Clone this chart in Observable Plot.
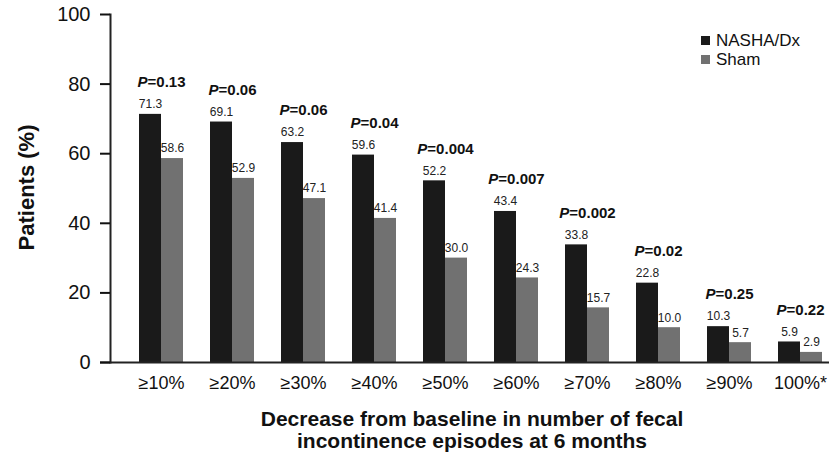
<!DOCTYPE html>
<html>
<head>
<meta charset="utf-8">
<script src="https://cdn.jsdelivr.net/npm/d3@7"></script>
<script src="https://cdn.jsdelivr.net/npm/@observablehq/plot@0.6"></script>
<style>
  html, body { margin: 0; padding: 0; background: #fff; }
  #wrap { position: relative; width: 829px; height: 454px; font-family: "Liberation Sans", Arial, sans-serif; }
  #legend { position: absolute; left: 701px; top: 31px; font-size: 17px; color: #111; }
  #legend .item { display: flex; align-items: center; height: 19px; }
  #legend .sw { width: 9px; height: 9px; margin-right: 6px; }
</style>
</head>
<body>
<div id="wrap"></div>
<script>
const categories = ["≥10%", "≥20%", "≥30%", "≥40%", "≥50%", "≥60%", "≥70%", "≥80%", "≥90%", "100%*"];
const nasha = [71.3, 69.1, 63.2, 59.6, 52.2, 43.4, 33.8, 22.8, 10.3, 5.9];
const sham = [58.6, 52.9, 47.1, 41.4, 30.0, 24.3, 15.7, 10.0, 5.7, 2.9];
const pValues = ["0.13", "0.06", "0.06", "0.04", "0.004", "0.007", "0.002", "0.02", "0.25", "0.22"];
const seriesNames = ["NASHA/Dx", "Sham"];
const seriesColors = ["#1a1a1a", "#717171"];
const yTicks = [0, 20, 40, 60, 80, 100];
const yTitle = "Patients (%)";
const xTitle = "Decrease from baseline in number of fecal\nincontinence episodes at 6 months";

const nashaRows = categories.map((c, i) => ({cat: c, value: nasha[i], p: "P=" + pValues[i]}));
const shamRows = categories.map((c, i) => ({cat: c, value: sham[i]}));

const font = '"Liberation Sans", Arial, sans-serif';
const narrow = '"Liberation Sans Narrow", "Arial Narrow", "Liberation Sans", Arial, sans-serif';

const svg = Plot.plot({
  width: 829,
  height: 454,
  marginLeft: 110,
  marginRight: 0,
  marginTop: 14,
  marginBottom: 92,
  style: {fontFamily: font, color: "#111", background: "#fff"},
  x: {domain: categories, range: [138, 824], paddingInner: 0.38, paddingOuter: 0},
  y: {domain: [0, 100]},
  marks: [
    Plot.barY(nashaRows, {x: "cat", y: "value", fill: seriesColors[0], insetRight: 22, insetLeft: 0}),
    Plot.barY(shamRows, {x: "cat", y: "value", fill: seriesColors[1], insetLeft: 22, insetRight: 0}),
    Plot.text(nashaRows, {x: "cat", y: "value", text: d => d.value.toFixed(1), dx: -11, dy: -10, fontSize: 12, fontFamily: narrow, fill: "#222"}),
    Plot.text(shamRows, {x: "cat", y: "value", text: d => d.value.toFixed(1), dx: 11, dy: -10, fontSize: 12, fontFamily: narrow, fill: "#222"}),
    Plot.text(nashaRows, {x: "cat", y: "value", text: "p", dy: -32, fontSize: 15, fontWeight: "bold", fill: "#111", className: "pval"}),
    Plot.ruleY([0], {insetLeft: -10, stroke: "#222", strokeWidth: 2}),
    Plot.frame({anchor: "left", stroke: "#222", strokeWidth: 2}),
    Plot.axisY({ticks: yTicks, tickSize: 10, tickPadding: 10, fontSize: 20, label: null, tickFormat: d => d, strokeWidth: 2}),
    Plot.axisX({tickSize: 0, tickPadding: 14, fontSize: 18, label: null}),
    Plot.text([yTitle], {frameAnchor: "left", textAnchor: "middle", lineAnchor: "middle", dx: -84, dy: -1, rotate: -90, fontSize: 22, fontWeight: "bold", fill: "#111"}),
    Plot.text([xTitle], {frameAnchor: "bottom", textAnchor: "middle", lineAnchor: "middle", dx: 2, dy: 67, fontSize: 21, fontWeight: "bold", lineHeight: 1.06, fill: "#111"})
  ]
});

d3.select(svg).selectAll(".pval text").each(function() {
  const t = this.textContent;
  const sel = d3.select(this);
  sel.text(null);
  sel.append("tspan").attr("font-style", "italic").text(t.slice(0, 1));
  sel.append("tspan").text(t.slice(1));
});

const wrap = document.getElementById("wrap");
wrap.appendChild(svg);

const legend = document.createElement("div");
legend.id = "legend";
seriesNames.forEach((name, i) => {
  const item = document.createElement("div");
  item.className = "item";
  const sw = document.createElement("span");
  sw.className = "sw";
  sw.style.background = seriesColors[i];
  const label = document.createElement("span");
  label.textContent = name;
  item.appendChild(sw);
  item.appendChild(label);
  legend.appendChild(item);
});
wrap.appendChild(legend);
</script>
</body>
</html>
